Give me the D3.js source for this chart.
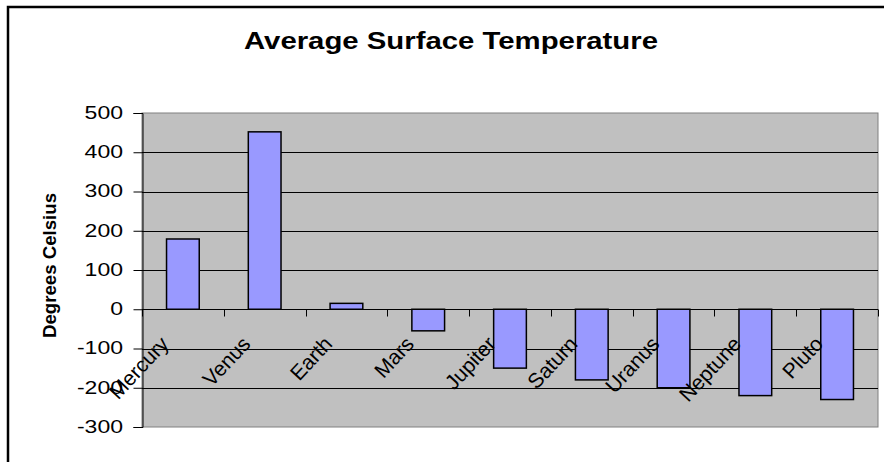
<!DOCTYPE html>
<html>
<head>
<meta charset="utf-8">
<script src="https://cdn.jsdelivr.net/npm/d3@7"></script>
<style>
    body { margin: 0; background: #fff; overflow: hidden; }
    svg { display: block; }
    text { font-family: "Liberation Sans", Arial, sans-serif; }
</style>
</head>
<body>
<svg id="chart"></svg>
<script>
// Data
const planets = ["Mercury", "Venus", "Earth", "Mars", "Jupiter", "Saturn", "Uranus", "Neptune", "Pluto"];
const temperatures = [179, 452, 15, -55, -150, -180, -200, -220, -230];
const yTicks = [-300, -200, -100, 0, 100, 200, 300, 400, 500];

const width = 884;
const height = 462;

// Plot area bounds
const plot = { left: 142, right: 878, top: 113, bottom: 427 };

const svg = d3.select("#chart").attr("width", width).attr("height", height);

// Scales
const x = d3.scaleBand()
    .domain(planets)
    .range([plot.left, plot.right])
    .paddingInner(0.6)
    .paddingOuter(0.3);
const y = d3.scaleLinear().domain([-300, 500]).range([plot.bottom, plot.top]);

// Outer chart border (only top and left fall inside the picture)
svg.append("path")
    .attr("d", "M8," + height + "V7H" + width)
    .attr("fill", "none")
    .attr("stroke", "#000")
    .attr("stroke-width", 2.5);

// Title
svg.append("text")
    .attr("x", 451)
    .attr("y", 49)
    .attr("text-anchor", "middle")
    .attr("font-size", "24px")
    .attr("font-weight", "bold")
    .attr("textLength", 414)
    .attr("lengthAdjust", "spacingAndGlyphs")
    .text("Average Surface Temperature");

// Plot background
svg.append("rect")
    .attr("x", plot.left)
    .attr("y", plot.top)
    .attr("width", plot.right - plot.left)
    .attr("height", plot.bottom - plot.top)
    .attr("fill", "#c0c0c0")
    .attr("stroke", "#808080")
    .attr("stroke-width", 1);

// Gridlines
svg.append("g")
    .selectAll("line")
    .data(yTicks.filter((d) => d !== 0 && d !== -300 && d !== 500))
    .enter()
    .append("line")
    .attr("x1", plot.left)
    .attr("x2", plot.right)
    .attr("y1", (d) => Math.round(y(d)) + 0.5)
    .attr("y2", (d) => Math.round(y(d)) + 0.5)
    .attr("stroke", "#000")
    .attr("stroke-width", 1);

// Bars
svg.append("g")
    .selectAll("rect")
    .data(temperatures)
    .enter()
    .append("rect")
    .attr("x", (d, i) => x(planets[i]))
    .attr("y", (d) => y(Math.max(0, d)))
    .attr("width", x.bandwidth())
    .attr("height", (d) => Math.abs(y(d) - y(0)))
    .attr("fill", "#9999ff")
    .attr("stroke", "#000")
    .attr("stroke-width", 1.5);

// Y axis
const yAxis = svg.append("g")
    .attr("transform", "translate(" + (plot.left + 0.5) + ",0)")
    .call(d3.axisLeft(y).tickValues(yTicks).tickSize(9).tickFormat(""));
yAxis.select(".domain").attr("stroke", "#000");
yAxis.selectAll("line").attr("stroke", "#000");

// Y tick labels (stretched wide like the original)
svg.append("g")
    .selectAll("text")
    .data(yTicks)
    .enter()
    .append("text")
    .attr("text-anchor", "end")
    .attr("font-size", "18px")
    .attr("dy", "0.33em")
    .attr("transform", (d) => "translate(123," + y(d) + ") scale(1.28,1)")
    .text((d) => d);

// X axis along zero with ticks between categories
const zeroY = Math.round(y(0)) + 0.5;
svg.append("line")
    .attr("x1", plot.left)
    .attr("x2", plot.right)
    .attr("y1", zeroY)
    .attr("y2", zeroY)
    .attr("stroke", "#000");
svg.append("g")
    .selectAll("line")
    .data(d3.range(planets.length + 1))
    .enter()
    .append("line")
    .attr("x1", (i) => Math.round(plot.left + i * x.step()) + 0.5)
    .attr("x2", (i) => Math.round(plot.left + i * x.step()) + 0.5)
    .attr("y1", zeroY)
    .attr("y2", zeroY + 7)
    .attr("stroke", "#000");

// Category labels, rotated
svg.append("g")
    .selectAll("text")
    .data(planets)
    .enter()
    .append("text")
    .attr("text-anchor", "end")
    .attr("font-size", "21px")
    .attr("transform", (d) => "translate(" + (x(d) + x.bandwidth() / 2 - 13) + ",345) rotate(-47)")
    .text((d) => d);

// Y axis title
svg.append("text")
    .attr("text-anchor", "middle")
    .attr("font-size", "19px")
    .attr("font-weight", "bold")
    .attr("textLength", 145)
    .attr("lengthAdjust", "spacingAndGlyphs")
    .attr("transform", "translate(56,265.5) rotate(-90)")
    .text("Degrees Celsius");
</script>
</body>
</html>
